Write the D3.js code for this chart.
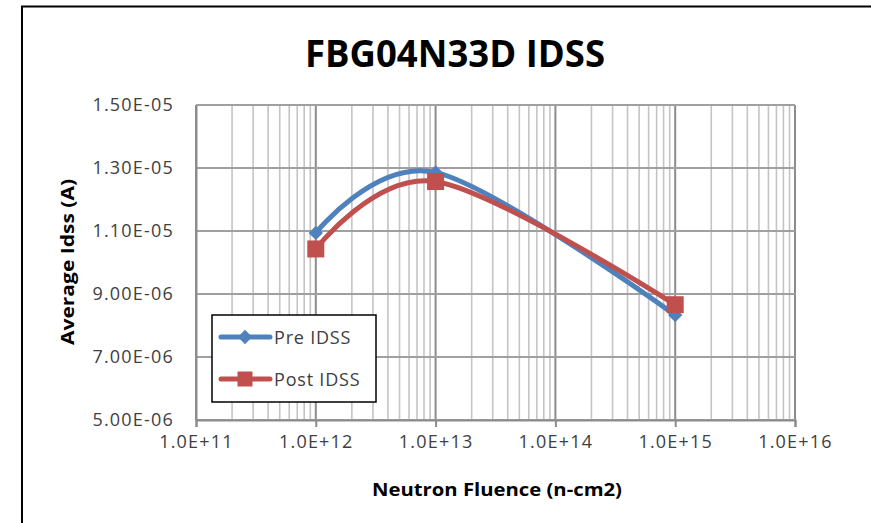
<!DOCTYPE html>
<html>
<head>
<meta charset="utf-8">
<script src="https://cdn.jsdelivr.net/npm/d3@7"></script>
<style>
  html, body { margin: 0; padding: 0; background: #fff; }
  svg { display: block; }
  text { font-family: "Open Sans", "Noto Sans", sans-serif; }
</style>
</head>
<body>
<svg id="chart" width="871" height="523"></svg>
<script>
// Neutron fluence test points (n/cm2)
const fluence = [1e12, 1e13, 1e15];
// Average drain leakage current before and after irradiation (A)
const preIdss = [1.094e-5, 1.286e-5, 8.33e-6];
const postIdss = [1.043e-5, 1.257e-5, 8.66e-6];
const seriesNames = ["Pre IDSS", "Post IDSS"];
const xTicks = [1e11, 1e12, 1e13, 1e14, 1e15, 1e16];
const yTicks = [5e-6, 7e-6, 9e-6, 1.1e-5, 1.3e-5, 1.5e-5];

const svg = d3.select("#chart");
const colors = ["#4F81BD", "#C0504D"];

const x = d3.scaleLog().domain([1e11, 1e16]).range([196, 795]);
const y = d3.scaleLinear().domain([5e-6, 1.5e-5]).range([420, 105]);

// outer chart frame
svg.append("rect")
  .attr("x", 22).attr("y", 6.5)
  .attr("width", 900).attr("height", 600)
  .attr("fill", "none").attr("stroke", "#000").attr("stroke-width", 2);

// title
svg.append("text")
  .attr("x", 455).attr("y", 67)
  .attr("text-anchor", "middle")
  .attr("font-size", 37).attr("font-weight", 700)
  .attr("textLength", 300).attr("lengthAdjust", "spacingAndGlyphs")
  .attr("fill", "#000")
  .text("FBG04N33D IDSS");

const grid = svg.append("g");

// minor vertical gridlines (2..9 within each decade)
const minor = [];
for (let e = 11; e < 16; e++) for (let k = 2; k <= 9; k++) minor.push(k * Math.pow(10, e));
grid.selectAll("line.minor").data(minor).join("line")
  .attr("class", "minor")
  .attr("x1", d => x(d)).attr("x2", d => x(d))
  .attr("y1", y(1.5e-5)).attr("y2", y(5e-6))
  .attr("stroke", "#c4c4c4").attr("stroke-width", 1.6);

// major vertical gridlines
grid.selectAll("line.major").data(xTicks).join("line")
  .attr("class", "major")
  .attr("x1", d => x(d)).attr("x2", d => x(d))
  .attr("y1", y(1.5e-5)).attr("y2", y(5e-6))
  .attr("stroke", "#8c8c8c").attr("stroke-width", 2);

// horizontal gridlines
grid.selectAll("line.h").data(yTicks).join("line")
  .attr("class", "h")
  .attr("x1", x(1e11)).attr("x2", x(1e16))
  .attr("y1", d => y(d)).attr("y2", d => y(d))
  .attr("stroke", "#a0a0a0").attr("stroke-width", 2);

function sci(v, digits) {
  const e = Math.floor(Math.log10(v) + 1e-9);
  const m = v / Math.pow(10, e);
  const sign = e < 0 ? "-" : "+";
  const ae = Math.abs(e);
  return m.toFixed(digits) + "E" + sign + (ae < 10 ? "0" + ae : ae);
}

// x axis
const xAxis = svg.append("g")
  .attr("transform", `translate(0,${y(5e-6)})`)
  .call(d3.axisBottom(x).tickValues(xTicks).tickSize(7).tickPadding(8)
    .tickFormat(d => sci(d, 1)));
xAxis.select(".domain").attr("stroke", "#8c8c8c").attr("stroke-width", 2);
xAxis.selectAll(".tick line").attr("stroke", "#8c8c8c").attr("stroke-width", 2);
xAxis.selectAll("text")
  .attr("font-size", 18).attr("fill", "#404040")
  .attr("letter-spacing", "1.2px");

// y axis
const yAxis = svg.append("g")
  .attr("transform", `translate(${x(1e11)},0)`)
  .call(d3.axisLeft(y).tickValues(yTicks).tickSize(0).tickPadding(22)
    .tickFormat(d => sci(d, 2)));
yAxis.select(".domain").attr("stroke", "#8c8c8c").attr("stroke-width", 2);
yAxis.selectAll("text")
  .attr("font-size", 18).attr("fill", "#404040")
  .attr("letter-spacing", "1.2px");

// axis titles
svg.append("text")
  .attr("x", 497).attr("y", 496)
  .attr("text-anchor", "middle")
  .attr("font-size", 17).attr("font-weight", 700)
  .attr("textLength", 250).attr("lengthAdjust", "spacingAndGlyphs")
  .attr("fill", "#000")
  .text("Neutron Fluence (n-cm2)");

svg.append("text")
  .attr("transform", "translate(74,262) rotate(-90)")
  .attr("text-anchor", "middle")
  .attr("font-size", 17).attr("font-weight", 700)
  .attr("textLength", 166).attr("lengthAdjust", "spacingAndGlyphs")
  .attr("fill", "#000")
  .text("Average Idss (A)");

// smoothed series lines
const line = d3.line()
  .x(d => x(d[0])).y(d => y(d[1]))
  .curve(d3.curveCatmullRom.alpha(0));

const series = [preIdss, postIdss].map((vals, i) => ({
  name: seriesNames[i], color: colors[i],
  pts: fluence.map((f, j) => [f, vals[j]])
}));

const diamond = d3.symbol().type(d3.symbolDiamond2).size(130)();
const square = (s) => `M${-s/2},${-s/2}h${s}v${s}h${-s}Z`;

series.forEach((s, i) => {
  const g = svg.append("g");
  g.append("path")
    .attr("d", line(s.pts))
    .attr("fill", "none").attr("stroke", s.color)
    .attr("stroke-width", 5).attr("stroke-linecap", "round");
  g.selectAll("path.m").data(s.pts).join("path")
    .attr("class", "m")
    .attr("transform", d => `translate(${x(d[0])},${y(d[1])})`)
    .attr("d", i === 0 ? diamond : square(17))
    .attr("fill", s.color);
});

// legend
const lg = svg.append("g");
lg.append("rect")
  .attr("x", 212).attr("y", 315).attr("width", 164).attr("height", 87)
  .attr("fill", "#fff").attr("stroke", "#000").attr("stroke-width", 1.5);
series.forEach((s, i) => {
  const cy = 337 + i * 42;
  lg.append("line")
    .attr("x1", 221).attr("x2", 270).attr("y1", cy).attr("y2", cy)
    .attr("stroke", s.color).attr("stroke-width", 5).attr("stroke-linecap", "round");
  lg.append("path")
    .attr("transform", `translate(245,${cy})`)
    .attr("d", i === 0 ? diamond : square(15))
    .attr("fill", s.color);
  lg.append("text")
    .attr("x", 274).attr("y", cy + 7)
    .attr("font-size", 18).attr("fill", "#404040")
    .attr("letter-spacing", "0.8px")
    .text(s.name);
});
</script>
</body>
</html>
